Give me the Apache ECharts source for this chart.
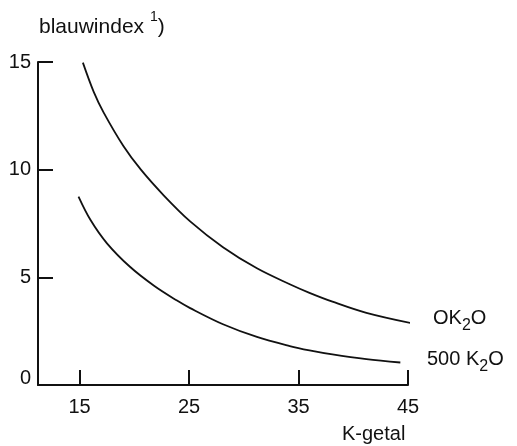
<!DOCTYPE html>
<html><head><meta charset="utf-8">
<script src="https://cdn.jsdelivr.net/npm/echarts@6/dist/echarts.min.js"></script>
<style>html,body{margin:0;padding:0;background:#fff}#c{width:517px;height:446px}</style>
</head><body><div id="c"></div>
<script>
// K-getal values and blauwindex readings
const kUpper = [15.3, 16.3, 17.2, 19.0, 20.6, 22.7, 25.1, 28.1, 31.2, 34.2, 36.0, 38.1, 41.2, 45.5];
const bUpper = [14.97, 13.6, 12.65, 11.1, 10.0, 8.8, 7.6, 6.4, 5.42, 4.68, 4.28, 3.87, 3.35, 2.85];
const kLower = [14.9, 16.0, 17.5, 19.6, 21.8, 23.9, 25.1, 28.1, 31.2, 34.2, 36.0, 38.1, 41.2, 44.3];
const bLower = [8.75, 7.66, 6.58, 5.49, 4.61, 3.92, 3.57, 2.82, 2.23, 1.81, 1.61, 1.42, 1.2, 1.045];
const xTicks = [15, 25, 35, 45];
const yTicks = [5, 10, 15];
const yLabels = [0, 5, 10, 15];
const seriesNames = ['OK2O', '500 K2O'];
const yTitle = 'blauwindex';
const xTitle = 'K-getal';

const FONT = 'Liberation Sans, Arial, sans-serif';
const INK = '#111';
const chart = echarts.init(document.getElementById('c'), null, {renderer: 'canvas'});
const zip = (a, b) => a.map((v, i) => [v, b[i]]);

chart.setOption({
  animation: false,
  backgroundColor: '#fff',
  grid: {left: 38, top: 62, width: 370, height: 323, containLabel: false},
  xAxis: {
    type: 'value', min: 11.2, max: 45,
    axisLine: {show: true, onZero: false, lineStyle: {color: INK, width: 2}},
    axisTick: {show: true, inside: true, length: 15, customValues: xTicks, lineStyle: {color: INK, width: 2}},
    axisLabel: {customValues: xTicks, color: INK, fontFamily: FONT, fontSize: 20, margin: 12},
    splitLine: {show: false}
  },
  yAxis: {
    type: 'value', min: 0, max: 15,
    axisLine: {show: true, lineStyle: {color: INK, width: 2}},
    axisTick: {show: true, inside: true, length: 15, customValues: yTicks, lineStyle: {color: INK, width: 2}},
    axisLabel: {customValues: yLabels, color: INK, fontFamily: FONT, fontSize: 20, margin: 7,
      formatter: v => v === 0 ? '{z|0}' : String(v),
      rich: {z: {fontFamily: FONT, fontSize: 20, color: INK, padding: [0, 0, 14, 0]}}},
    splitLine: {show: false}
  },
  series: [
    {name: seriesNames[0], type: 'line', smooth: 0.35, showSymbol: false, clip: false,
     lineStyle: {color: INK, width: 1.8}, data: zip(kUpper, bUpper)},
    {name: seriesNames[1], type: 'line', smooth: 0.35, showSymbol: false, clip: false,
     lineStyle: {color: INK, width: 1.8}, data: zip(kLower, bLower)}
  ],
  graphic: [
    {type: 'text', left: 39, top: 10, style: {
      text: '{a|' + yTitle + ' }{s|1}{a|)}', fill: INK,
      rich: {a: {fontFamily: FONT, fontSize: 21, fill: INK, verticalAlign: 'bottom', lineHeight: 28},
             s: {fontFamily: FONT, fontSize: 14, fill: INK, verticalAlign: 'top', lineHeight: 28}}}},
    {type: 'text', left: 342, top: 424, style: {
      text: xTitle, fill: INK, font: '20px ' + FONT}},
    {type: 'text', left: 433, top: 308, style: {
      text: '{a|OK}{s|2}{a|O}', fill: INK,
      rich: {a: {fontFamily: FONT, fontSize: 20, fill: INK, verticalAlign: 'top', lineHeight: 26},
             s: {fontFamily: FONT, fontSize: 16, fill: INK, verticalAlign: 'bottom', lineHeight: 26}}}},
    {type: 'text', left: 427, top: 349, style: {
      text: '{a|500 K}{s|2}{a|O}', fill: INK,
      rich: {a: {fontFamily: FONT, fontSize: 20, fill: INK, verticalAlign: 'top', lineHeight: 26},
             s: {fontFamily: FONT, fontSize: 16, fill: INK, verticalAlign: 'bottom', lineHeight: 26}}}}
  ]
});
</script></body></html>
